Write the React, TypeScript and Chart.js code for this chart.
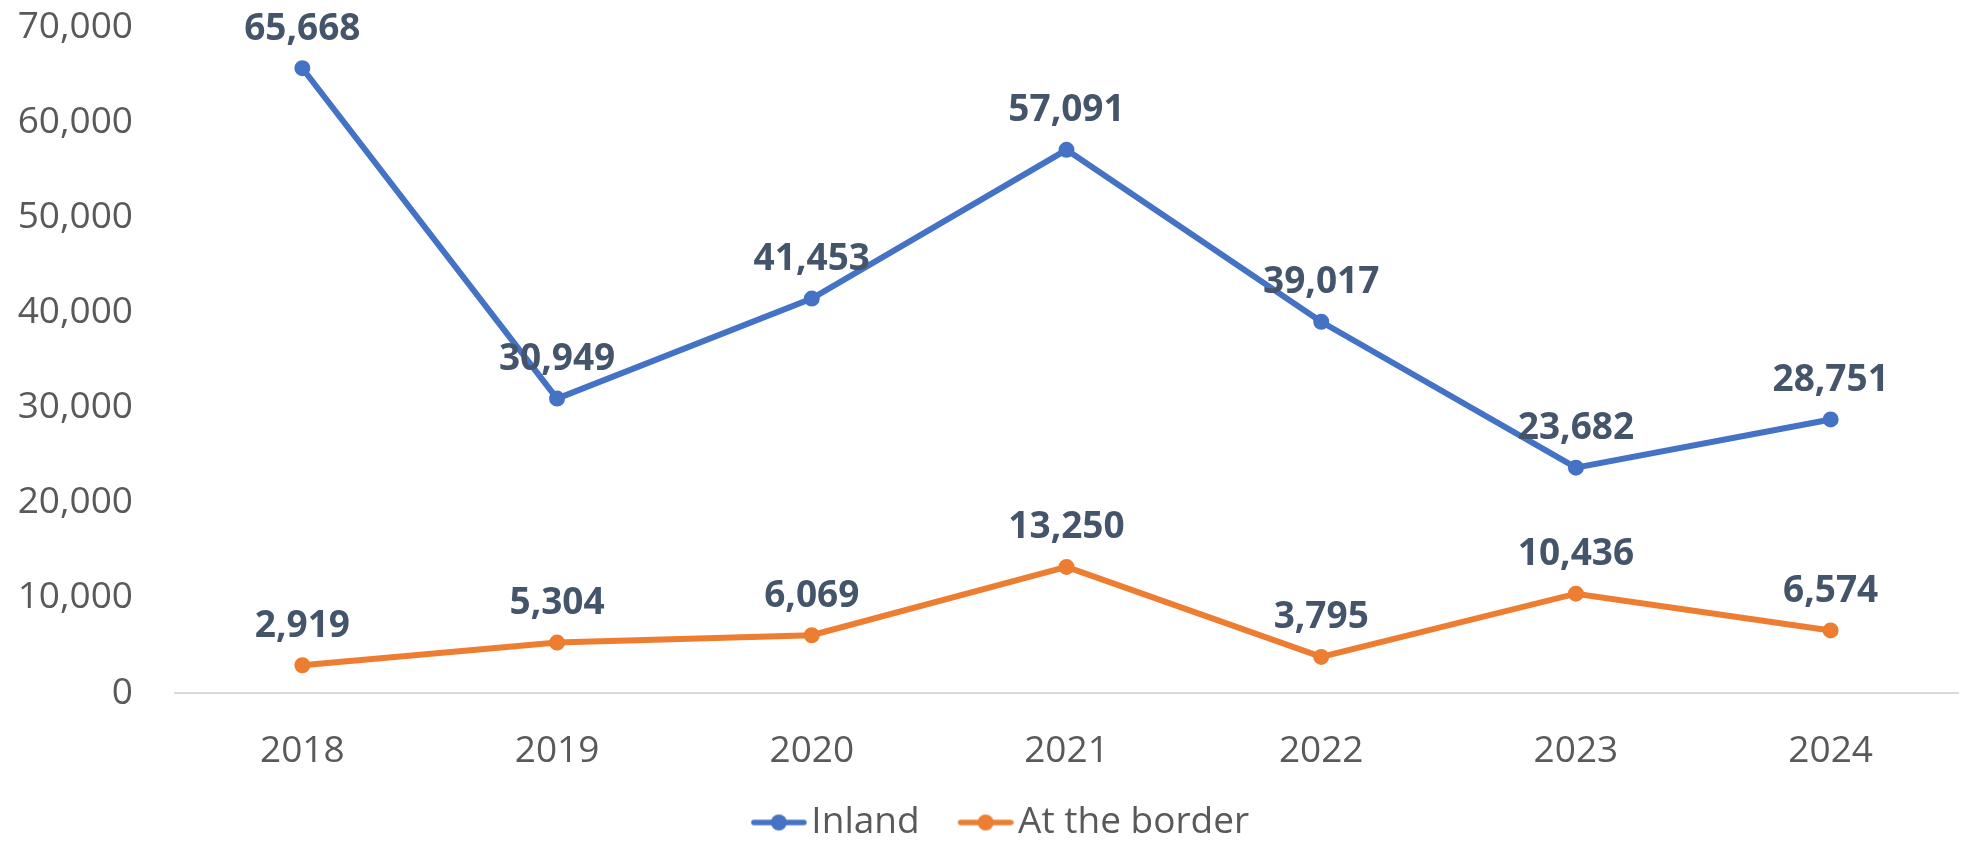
import React, { useEffect, useRef } from "react";
import { Chart, registerables } from "chart.js";

Chart.register(...registerables);

const years = ["2018", "2019", "2020", "2021", "2022", "2023", "2024"];
const inland = [65668, 30949, 41453, 57091, 39017, 23682, 28751];
const atBorder = [2919, 5304, 6069, 13250, 3795, 10436, 6574];
const seriesNames = ["Inland", "At the border"];
const seriesColors = ["#4472C4", "#ED7D31"];
const yMin = 0;
const yMax = 70000;
const yStep = 10000;

const FONT = "'Open Sans', 'DejaVu Sans', sans-serif";
const W = 1967;
const H = 842;

function fmt(v: number) {
  return v.toLocaleString("en-US");
}

function makeLegendMarker(color: string) {
  const c = document.createElement("canvas");
  c.width = 70;
  c.height = 22;
  const g = c.getContext("2d")!;
  g.strokeStyle = color;
  g.lineWidth = 5.5;
  g.lineCap = "round";
  g.beginPath();
  g.moveTo(17, 11);
  g.lineTo(67, 11);
  g.stroke();
  g.fillStyle = color;
  g.beginPath();
  g.arc(42, 11, 8, 0, Math.PI * 2);
  g.fill();
  return c;
}

const dataLabelPlugin = {
  id: "dataLabels",
  afterDatasetsDraw(chart: any) {
    const ctx = chart.ctx;
    ctx.save();
    ctx.font = `bold 37px ${FONT}`;
    ctx.fillStyle = "#44546A";
    ctx.textAlign = "center";
    ctx.textBaseline = "middle";
    chart.data.datasets.forEach((ds: any, di: number) => {
      const meta = chart.getDatasetMeta(di);
      meta.data.forEach((pt: any, i: number) => {
        ctx.fillText(fmt(ds.data[i]), pt.x, pt.y - 39);
      });
    });
    ctx.restore();
  },
};

const legendPlacePlugin = {
  id: "legendPlace",
  afterLayout(chart: any) {
    const lg = chart.legend;
    if (lg) {
      const h = lg.height;
      lg.top = 766;
      lg.bottom = lg.top + h;
      lg.left = 0;
      lg.right = 2000;
      lg.width = 2000;
    }
    const xs = chart.scales && chart.scales.x;
    if (xs) {
      xs.bottom = H;
      xs.height = H - xs.top;
    }
  },
};

export default function App() {
  const ref = useRef<HTMLCanvasElement | null>(null);

  useEffect(() => {
    if (!ref.current) return;
    const markers = seriesColors.map((c) => makeLegendMarker(c));
    const chart = new Chart(ref.current, {
      type: "line",
      data: {
        labels: years,
        datasets: [inland, atBorder].map((d, i) => ({
          label: seriesNames[i],
          data: d,
          borderColor: seriesColors[i],
          backgroundColor: seriesColors[i],
          borderWidth: 6,
          pointRadius: 7,
          pointBorderWidth: 2,
          pointBackgroundColor: seriesColors[i],
          pointBorderColor: seriesColors[i],
          tension: 0,
          fill: false,
        })),
      },
      options: {
        responsive: false,
        animation: false,
        layout: { padding: { top: 27, left: 0, right: 0, bottom: 0 } },
        plugins: {
          tooltip: { enabled: false },
          legend: {
            position: "bottom",
            labels: {
              usePointStyle: true,
              pointStyleWidth: 42,
              padding: 38,
              color: "#595959",
              font: { family: FONT, size: 37 },
              generateLabels(chart: any) {
                const items = Chart.defaults.plugins.legend.labels.generateLabels(chart);
                return items.map((it: any, i: number) => ({ ...it, pointStyle: markers[i] }));
              },
            },
          },
        },
        scales: {
          x: {
            type: "category",
            offset: true,
            grid: { display: false, drawTicks: false },
            border: { display: true, color: "#D9D9D9", width: 2 },
            ticks: { font: { family: FONT, size: 37 }, color: "#595959", padding: 36 },
            afterFit(s: any) {
              const lh = s.chart.legend ? s.chart.legend.height : 85;
              s.height = 149 - lh;
              s.paddingLeft = 0;
              s.paddingRight = 0;
            },
          },
          y: {
            min: yMin,
            max: yMax,
            grid: { display: false, drawTicks: false },
            border: { display: false },
            ticks: {
              stepSize: yStep,
              font: { family: FONT, size: 37 },
              color: "#595959",
              padding: 42,
              callback: (v: any) => fmt(Number(v)),
            },
            afterFit(s: any) {
              s.width = 175;
              s.paddingTop = 0;
              s.paddingBottom = 0;
            },
          },
        },
      },
      plugins: [dataLabelPlugin, legendPlacePlugin],
    } as any);
    return () => chart.destroy();
  }, []);

  return (
    <div style={{ position: "fixed", left: 0, top: 0, width: W, height: H, background: "#fff" }}>
      <canvas ref={ref} width={W} height={H} style={{ width: W, height: H, display: "block" }} />
    </div>
  );
}
